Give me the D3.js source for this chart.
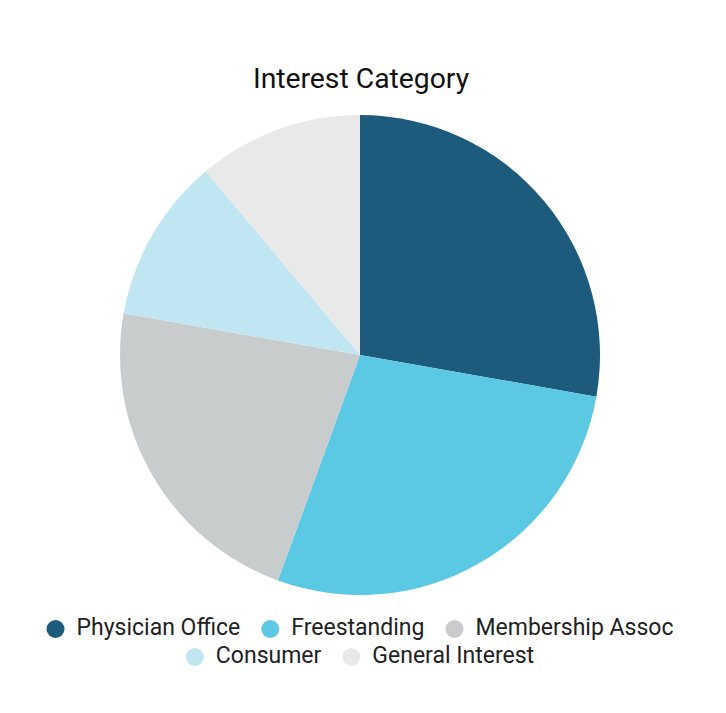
<!DOCTYPE html>
<html><head><meta charset="utf-8">
<script src="https://cdn.jsdelivr.net/npm/d3@7"></script>
<style>body{margin:0;background:#fff}svg{display:block}</style>
</head><body>
<script>
const categories = ["Physician Office","Freestanding","Membership Assoc","Consumer","General Interest"];
const values = [25,25,20,10,10];
const colors = ["#1d5b7d","#5bc9e3","#c9cccd","#c0e6f2","#e9e9ea"];
const title = "Interest Category";

const W=726,H=713;
const svg=d3.select("body").append("svg").attr("width",W).attr("height",H);
const font="Roboto, 'Noto Sans', sans-serif";

svg.append("text").attr("x",361).attr("y",88).attr("text-anchor","middle")
  .attr("font-family",font).attr("font-size",28.3).attr("fill","#111").text(title);

const cx=360,cy=355,r=240;
const pie=d3.pie().sort(null).value(d=>d.v);
const arc=d3.arc().innerRadius(0).outerRadius(r);
const data=categories.map((c,i)=>({c,v:values[i],col:colors[i]}));
svg.append("g").attr("transform",`translate(${cx},${cy})`)
  .selectAll("path").data(pie(data)).join("path")
  .attr("d",arc).attr("fill",d=>d.data.col);

// legend
const fs=23, gap=21, markerW=30, maxW=660;
const tmp=svg.append("text").attr("font-family",font).attr("font-size",fs);
const items=data.map(d=>{tmp.text(d.c);return {...d,w:markerW+tmp.node().getComputedTextLength()};});
tmp.remove();
const rows=[[]];let cur=0;
items.forEach(it=>{const add=(rows[rows.length-1].length?gap:0)+it.w;
  if(cur+add>maxW&&rows[rows.length-1].length){rows.push([it]);cur=it.w;}else{rows[rows.length-1].push(it);cur+=add;}});
const rowYs=[635,663];
const lg=svg.append("g");
rows.forEach((row,ri)=>{
  const tw=d3.sum(row,d=>d.w)+gap*(row.length-1);
  let x=360-tw/2;
  row.forEach(it=>{
    lg.append("circle").attr("cx",x+9).attr("cy",rowYs[ri]-6).attr("r",9).attr("fill",it.col);
    lg.append("text").attr("x",x+markerW).attr("y",rowYs[ri]).attr("font-family",font).attr("font-size",fs).attr("fill","#222").text(it.c);
    x+=it.w+gap;
  });
});
</script>
</body></html>
